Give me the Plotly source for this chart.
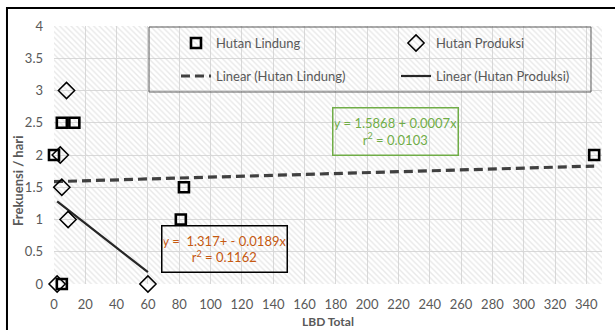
import plotly.graph_objects as go

# Hutan Lindung observations (LBD total vs frequency per day)
lindung_x = [0, 5, 13, 83, 81, 5, 345]
lindung_y = [2, 2.5, 2.5, 1.5, 1, 0, 2]

# Hutan Produksi observations
produksi_x = [8, 4, 5, 9, 2, 60]
produksi_y = [3, 2, 1.5, 1, 0, 0]

# Linear trend coefficients (intercept, slope) and r²
lindung_fit = (1.5868, 0.0007)
lindung_r2 = 0.0103
produksi_fit = (1.317, -0.0189)
produksi_r2 = 0.1162

# Axis ticks
x_ticks = list(range(0, 341, 20))
y_ticks = [0, 0.5, 1, 1.5, 2, 2.5, 3, 3.5, 4]
x_range = [0, 350]
y_range = [0, 4]

FONT = "Lato, Carlito, Calibri, sans-serif"
GREY = "#595959"
GREEN = "#70ad47"
ORANGE = "#c65911"


def trend(fit, xs):
    lo, hi = min(xs), max(xs)
    return [lo, hi], [fit[0] + fit[1] * lo, fit[0] + fit[1] * hi]


fig = go.Figure()

# hatched plot-area background
fig.add_trace(go.Scatter(
    x=[x_range[0], x_range[1], x_range[1], x_range[0], x_range[0]],
    y=[y_range[0], y_range[0], y_range[1], y_range[1], y_range[0]],
    mode="lines", fill="toself", line=dict(width=0),
    fillcolor="rgba(0,0,0,0)",
    fillpattern=dict(shape="\\", fgcolor="#d2d2d2", bgcolor="rgba(255,255,255,0)",
                     size=4, solidity=0.35),
    showlegend=False, hoverinfo="skip",
))

lx, ly = trend(lindung_fit, lindung_x)
fig.add_trace(go.Scatter(
    x=lx, y=ly, mode="lines", name="Linear (Hutan Lindung)",
    line=dict(color="#404040", width=3.2, dash="9px,5px"),
    legend="legend3",
))
px_, py_ = trend(produksi_fit, produksi_x)
fig.add_trace(go.Scatter(
    x=px_, y=py_, mode="lines", name="Linear (Hutan Produksi)",
    line=dict(color="#262626", width=2.2),
    legend="legend4",
))

fig.add_trace(go.Scatter(
    x=lindung_x, y=lindung_y, mode="markers", name="Hutan Lindung",
    marker=dict(symbol="square-open", size=10, color="#000000",
                line=dict(width=2.6, color="#000000")),
    cliponaxis=False, legend="legend",
))
fig.add_trace(go.Scatter(
    x=produksi_x, y=produksi_y, mode="markers", name="Hutan Produksi",
    marker=dict(symbol="diamond-open", size=12.5, color="#000000",
                line=dict(width=1.5, color="#000000")),
    cliponaxis=False, legend="legend2",
))


def legend_at(x, y):
    return dict(
        x=x, y=y, xanchor="left", yanchor="middle", orientation="h",
        bgcolor="rgba(0,0,0,0)", borderwidth=0, itemwidth=30,
        font=dict(family=FONT, size=13, color=GREY),
        itemclick=False, itemdoubleclick=False,
    )


fig.update_layout(
    width=615, height=330,
    margin=dict(l=54, r=13, t=26, b=46),
    paper_bgcolor="white", plot_bgcolor="white",
    font=dict(family=FONT, color=GREY),
    legend=legend_at(0.2226, 0.934),
    legend2=legend_at(0.6241, 0.934),
    legend3=legend_at(0.2226, 0.806),
    legend4=legend_at(0.6241, 0.806),
    xaxis=dict(
        range=x_range, tickvals=x_ticks, showgrid=True, gridcolor="#d9d9d9",
        gridwidth=1, zeroline=False, showline=False, ticks="",
        ticklabelstandoff=11, tickfont=dict(family=FONT, size=13, color=GREY),
    ),
    yaxis=dict(
        range=y_range, tickvals=y_ticks, showgrid=True, gridcolor="#d9d9d9",
        gridwidth=1, zeroline=False, showline=False, ticks="",
        ticklabelstandoff=10, tickfont=dict(family=FONT, size=13, color=GREY),
    ),
    shapes=[
        # outer chart frame
        dict(type="rect", xref="paper", yref="paper",
             x0=-0.0858, x1=1.06, y0=-0.25, y1=1.0698,
             line=dict(color="#000000", width=2)),
        # legend frame
        dict(type="rect", xref="paper", yref="paper",
             x0=0.1734, x1=0.9799, y0=0.7442, y1=0.9961,
             line=dict(color=GREY, width=1)),
    ],
    annotations=[
        dict(text="Frekuensi / hari", xref="paper", yref="paper",
             x=-0.0653, y=0.40, xanchor="center", yanchor="middle",
             textangle=-90, showarrow=False,
             font=dict(family=FONT, size=13, color=GREY, weight="bold")),
        dict(text="LBD Total", xref="paper", yref="paper",
             x=0.5, y=-0.147, xanchor="center", yanchor="middle",
             showarrow=False,
             font=dict(family=FONT, size=12, color=GREY, weight="bold")),
        dict(text=f"y = {lindung_fit[0]} + {lindung_fit[1]:.4f}x<br>"
                  f"r<sup>2</sup> = {lindung_r2:.4f}",
             xref="x", yref="y", x=218.4, y=2.357,
             xanchor="center", yanchor="middle", showarrow=False,
             width=122, height=44, borderpad=1, align="center",
             bordercolor=GREEN, borderwidth=1.5, bgcolor="rgba(0,0,0,0)",
             font=dict(family=FONT, size=13, color=GREEN)),
        dict(text=f"y =\u00a0 {produksi_fit[0]}+ - {abs(produksi_fit[1]):.4f}x<br>"
                  f"r<sup>2</sup> = {produksi_r2:.4f}",
             xref="x", yref="y", x=109.2, y=0.535,
             xanchor="center", yanchor="middle", showarrow=False,
             width=122, height=43, borderpad=1, align="center",
             bordercolor="#000000", borderwidth=1.5, bgcolor="rgba(0,0,0,0)",
             font=dict(family=FONT, size=13, color=ORANGE)),
    ],
)

fig.write_html("out.html")
